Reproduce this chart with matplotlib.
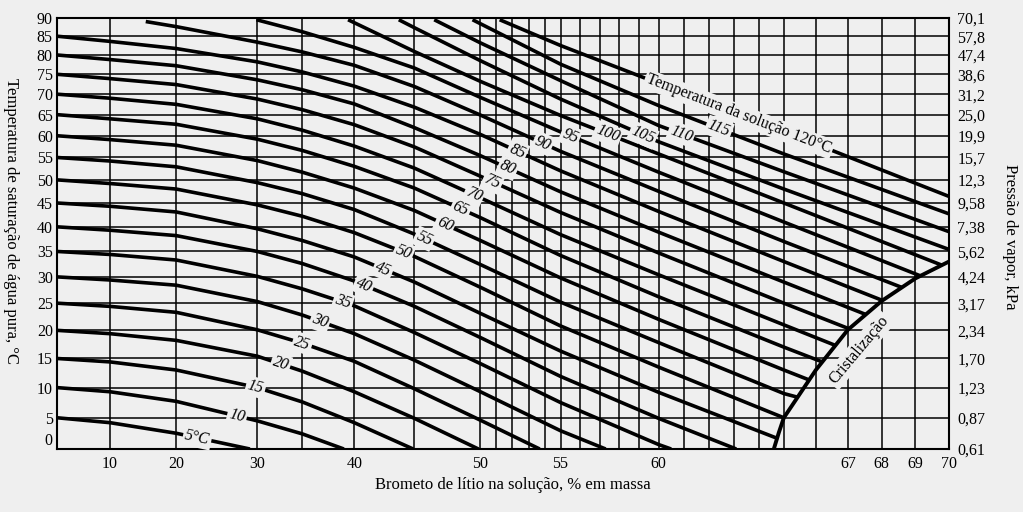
import numpy as np
import matplotlib
matplotlib.use('Agg')
import matplotlib.pyplot as plt

plt.rcParams['font.family'] = ['Liberation Serif', 'DejaVu Serif']
nan = np.nan
bg = '#efefef'

# left axis: saturation temperature of pure water, right axis: matching vapour pressure
sat_ticks = list(range(0, 95, 5))
pressure_labels = ['0,61', '0,87', '1,23', '1,70', '2,34', '3,17', '4,24', '5,62', '7,38',
                   '9,58', '12,3', '15,7', '19,9', '25,0', '31,2', '38,6', '47,4', '57,8', '70,1']

# bottom axis, LiBr % by mass
conc_ticks = [10, 20, 30, 40, 50, 55, 60, 67, 68, 69, 70]
conc_grid = [10, 20, 30, 35, 40, 45] + list(range(50, 70))

# the concentration axis of the chart is stretched; break points of that scale
scale_conc = [0, 10, 20, 30, 35, 40, 45, 50, 55, 60, 65, 67, 70]
scale_frac = [0, 0.0595, 0.1336, 0.2245, 0.2750, 0.3333, 0.4007, 0.4747, 0.5645,
              0.6745, 0.8148, 0.8866, 1.0]

# isotherms of the solution (degC): saturation temperature read at these concentrations
solution_temps = list(range(5, 125, 5))
col_conc = [0, 10, 20, 30, 35, 40, 45, 50, 55, 60, 65, 70]
sat_temp = [
    [nan, 4.2, 2.5, nan, nan, nan, nan, nan, nan, nan, nan, nan],
    [nan, 9.3, 7.7, 4.5, 2.4, nan, nan, nan, nan, nan, nan, nan],
    [nan, 14.4, 13.0, 10.0, 7.6, 4.2, nan, nan, nan, nan, nan, nan],
    [nan, 19.4, 18.2, 15.4, 12.8, 9.3, 4.9, nan, nan, nan, nan, nan],
    [nan, 24.4, 23.3, 20.1, 17.7, 14.5, 9.8, 4.6, nan, nan, nan, nan],
    [nan, 29.4, 28.4, 25.3, 22.8, 19.4, 14.7, 9.3, 2.9, nan, nan, nan],
    [nan, 34.4, 33.3, 30.1, 27.7, 24.5, 19.6, 14.1, 7.5, 0.7, nan, nan],
    [nan, 39.3, 38.2, 35.0, 32.6, 29.2, 24.4, 18.7, 11.9, 4.9, nan, nan],
    [nan, 44.3, 43.1, 39.6, 37.2, 33.9, 29.0, 23.1, 16.3, 9.2, nan, nan],
    [nan, 49.2, 48.0, 44.6, 42.2, 38.8, 34.0, 28.0, 20.8, 13.5, nan, nan],
    [nan, 54.2, 52.9, 49.4, 47.0, 43.6, 38.5, 32.4, 25.2, 17.8, 9.0, nan],
    [nan, 59.1, 57.8, 54.3, 51.7, 48.2, 43.4, 37.2, 29.8, 22.0, 13.0, nan],
    [nan, 64.0, 62.7, 59.2, 56.6, 53.0, 48.2, 41.9, 34.2, 26.2, 17.0, nan],
    [nan, 69.0, 67.5, 64.0, 61.3, 57.6, 52.6, 46.1, 38.4, 30.4, 21.0, nan],
    [nan, 73.9, 72.4, 68.8, 66.2, 62.6, 57.4, 50.8, 43.0, 34.7, 25.0, nan],
    [nan, 78.8, 77.2, 73.6, 71.1, 67.6, 61.9, 55.4, 47.4, 38.9, 29.0, nan],
    [nan, 83.6, 81.7, 78.2, 75.6, 72.0, 66.8, 60.3, 52.0, 43.2, 33.0, nan],
    [nan, nan, 87.6, 83.4, 80.8, 77.3, 71.9, 64.9, 56.4, 47.5, 37.0, nan],
    [nan, nan, nan, nan, 86.2, 82.0, 76.6, 69.2, 60.9, 51.7, 41.0, nan],
    [nan, nan, nan, nan, nan, nan, 80.9, 73.2, 64.8, 55.8, 45.0, nan],
    [nan, nan, nan, nan, nan, nan, 87.3, 78.5, 68.8, 58.6, 48.0, nan],
    [nan, nan, nan, nan, nan, nan, nan, 83.2, 73.4, 62.4, 51.8, nan],
    [nan, nan, nan, nan, nan, nan, nan, nan, 77.6, 67.2, 55.8, nan],
    [nan, nan, nan, nan, nan, nan, nan, nan, 82.5, 72.7, 61.0, nan],
]
start_conc = [0] * 17 + [15.4, 29.9, 39.4, 43.7, 46.5, 49.4, 51.2]
start_sat = list(range(5, 90, 5)) + [89.0, 89.5, 89.5, 89.5, 89.5, 89.5, 89.5]
end_conc = [29.1, 39.0, 44.9, 49.85, 53.7, 57.3, 60.5, 63.1, 64.73, 65.0, 65.42, 65.79,
            66.2, 66.61, 67.03, 67.53, 68.03, 68.59, 69.15, 69.78, 70, 70, 70, 70]
end_sat = [0, 0, 0, 0, 0, 0, 0, 0, 1.7, 5.0, 8.4, 11.3, 14.4, 17.3, 20.3, 22.9, 25.5,
           28.0, 30.2, 32.3, 35.4, 39.0, 42.7, 46.4]
label_conc = [22.6, 27.5, 29.8, 32.6, 35.0, 36.7, 38.9, 40.8, 42.4, 44.1, 45.75, 47.3,
              48.5, 49.5, 50.75, 51.7, 52.3, 53.9, 55.5, 57.4, 59.2, 60.9, 62.4, 63.2]

# crystallization limit
cryst_conc = [64.6, 64.8, 65, 66, 67, 68, 69, 70]
cryst_sat = [0, 2.6, 5.0, 13.0, 20.1, 25.4, 29.7, 33.0]


def conc_fwd(x):
    return np.interp(x, scale_conc, scale_frac)


def conc_inv(u):
    return np.interp(u, scale_frac, scale_conc)


def temp_fwd(t):
    with np.errstate(divide='ignore', invalid='ignore'):
        return -1.0 / (np.asarray(t, float) + 273.15)


def temp_inv(v):
    with np.errstate(divide='ignore', invalid='ignore'):
        return -1.0 / np.asarray(v, float) - 273.15


fig = plt.figure(figsize=(10.23, 5.12), dpi=100, facecolor=bg)
ax = fig.add_axes([0.0557, 0.123, 0.872, 0.842])
ax.set_facecolor(bg)
ax.set_xscale('function', functions=(conc_fwd, conc_inv))
ax.set_yscale('function', functions=(temp_fwd, temp_inv))
ax.set_xlim(0, 70)
ax.set_ylim(0, 90)

for c in conc_grid:
    ax.axvline(c, color='black', lw=1.1, zorder=1)
for t in sat_ticks[1:-1]:
    ax.axhline(t, color='black', lw=1.1, zorder=1)

ax.set_xticks(conc_ticks)
ax.set_xticklabels([str(c) for c in conc_ticks])
ax.set_yticks(sat_ticks)
ax.set_yticklabels([str(t) for t in sat_ticks])
ax.tick_params(length=0, labelsize=11.5)
ax.tick_params(axis='x', pad=5)
ax.tick_params(axis='y', pad=3)
ax.get_yticklabels()[0].set_va('bottom')
for s in ax.spines.values():
    s.set_linewidth(1.5)

ax2 = ax.twinx()
ax2.set_yscale('function', functions=(temp_fwd, temp_inv))
ax2.set_ylim(0, 90)
ax2.set_yticks(sat_ticks)
ax2.set_yticklabels(pressure_labels)
ax2.tick_params(length=0, labelsize=11.5, pad=6)
for s in ax2.spines.values():
    s.set_visible(False)

cc = np.array(col_conc, float)
for i, t in enumerate(solution_temps):
    row = np.array(sat_temp[i], float)
    keep = np.isfinite(row) & (cc > start_conc[i]) & (cc < end_conc[i])
    xs = np.r_[start_conc[i], cc[keep], end_conc[i]]
    ys = np.r_[start_sat[i], row[keep], end_sat[i]]
    ax.plot(xs, ys, color='black', lw=2.6, solid_capstyle='butt', zorder=3)

    # label sitting on the line
    u = conc_fwd(xs)
    v = temp_fwd(ys)
    lu = conc_fwd(label_conc[i])
    lv = np.interp(lu, u, v)
    lx, ly = label_conc[i], float(temp_inv(lv))
    p0 = ax.transData.transform((conc_inv(lu - 0.01), float(temp_inv(np.interp(lu - 0.01, u, v)))))
    p1 = ax.transData.transform((conc_inv(lu + 0.01), float(temp_inv(np.interp(lu + 0.01, u, v)))))
    ang = np.degrees(np.arctan2(p1[1] - p0[1], p1[0] - p0[0]))
    if t == 5:
        txt, style = '5°C', 'italic'
    elif t == 120:
        txt, style = 'Temperatura da solução 120°C', 'normal'
    else:
        txt, style = str(t), 'italic'
    ax.text(lx, ly, txt, rotation=ang, rotation_mode='anchor', ha='center', va='center',
            fontsize=11.5, fontstyle=style, zorder=4,
            bbox=dict(boxstyle='square,pad=0.12', fc=bg, ec='none'))

ax.plot(cryst_conc, cryst_sat, color='black', lw=2.8, zorder=3)
ax.text(67.33, 16.5, 'Cristalização', rotation=50, rotation_mode='anchor', ha='center',
        va='center', fontsize=11.5, zorder=4,
        bbox=dict(boxstyle='square,pad=0.15', fc=bg, ec='none'))

fig.text(513 / 1023, 1 - 485 / 512, 'Brometo de lítio na solução, % em massa',
         ha='center', va='center', fontsize=12)
fig.text(11 / 1023, 1 - 221 / 512, 'Temperatura de saturação de água pura, °C',
         ha='center', va='center', rotation=-90, fontsize=12)
fig.text(1010 / 1023, 1 - 237 / 512, 'Pressão de vapor, kPa',
         ha='center', va='center', rotation=-90, fontsize=12)

fig.savefig('out.png', dpi=100, facecolor=bg)
